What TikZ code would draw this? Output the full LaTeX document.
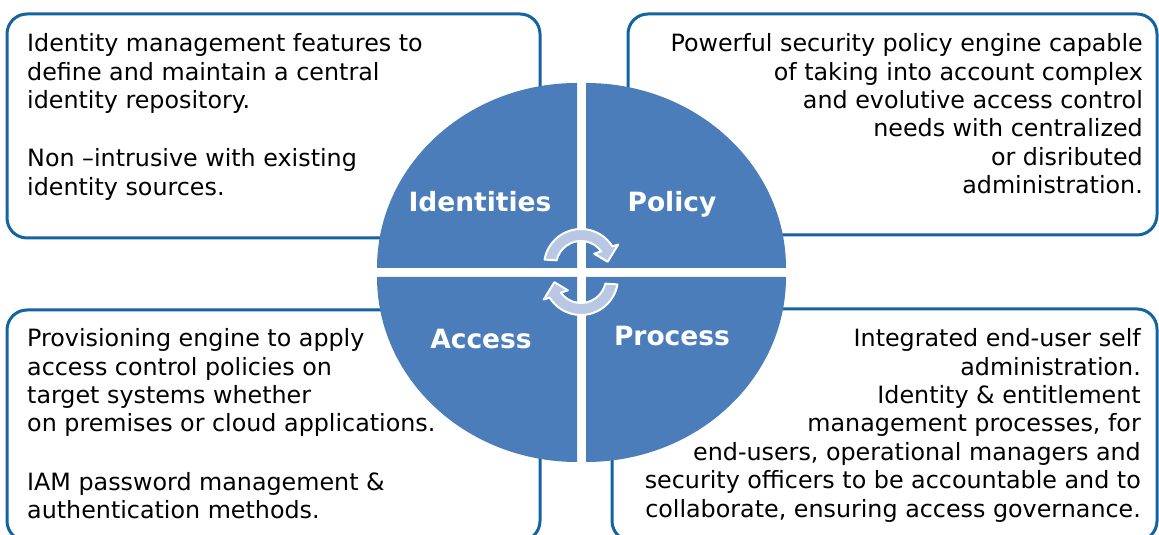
\documentclass[tikz,border=0pt]{standalone}
\usepackage{fontspec}
\setmainfont{DejaVu Sans}
\definecolor{frameblue}{RGB}{20,100,160}
\definecolor{wheelblue}{RGB}{74,125,186}
\definecolor{cyclefill}{RGB}{184,199,226}
\tikzset{
  infobox/.style={draw=frameblue, line width=3bp, fill=white, rounded corners=20bp},
  quadrant/.style={fill=wheelblue},
  bodytext/.style={inner sep=0pt, text=black, font=\fontsize{23.8bp}{28.4bp}\selectfont},
  wheellabel/.style={inner sep=0pt, text=white, font=\bfseries\fontsize{26.5bp}{30bp}\selectfont},
  cyclearrow/.style={fill=cyclefill, draw=white, line width=2bp, line join=round}
}
\begin{document}
\begin{tikzpicture}[x=1bp,y=1bp]
\useasboundingbox (0,0) rectangle (1159,535);
\clip (0,0) rectangle (1159,535);

% description boxes
\draw[infobox] (7,297) rectangle (540,521);
\draw[infobox] (628,300) rectangle (1157,521);
\draw[infobox] (7,-6) rectangle (540,225);
\draw[infobox] (612,-6) rectangle (1157,226);

% the four quarters of the wheel
\coordinate (c) at (581.5,262.5);
\fill[quadrant] ([shift={(-4.5,4.5)}]c) -- ++(-200,0) arc[start angle=180, end angle=90, x radius=200bp, y radius=185bp] -- cycle;
\fill[quadrant] ([shift={(4.5,4.5)}]c) -- ++(200,0) arc[start angle=0, end angle=90, x radius=200bp, y radius=185bp] -- cycle;
\fill[quadrant] ([shift={(-4.5,-4.5)}]c) -- ++(-200,0) arc[start angle=180, end angle=270, x radius=200bp, y radius=185bp] -- cycle;
\fill[quadrant] ([shift={(4.5,-4.5)}]c) -- ++(200,0) arc[start angle=0, end angle=-90, x radius=200bp, y radius=185bp] -- cycle;

% cycle arrows in the middle
\coordinate (ct) at (581,269);
\coordinate (cb) at (581,257);
\begin{scope}[shift={(ct)}]
  \path[cyclearrow] (170:37) arc[start angle=170, end angle=32, radius=37bp]
    -- (30:43) -- (9:27) -- (43:18) -- (36:25)
    arc[start angle=36, end angle=167, radius=25bp] -- cycle;
\end{scope}
\begin{scope}[shift={(cb)}, rotate=180]
  \path[cyclearrow] (170:37) arc[start angle=170, end angle=32, radius=37bp]
    -- (30:43) -- (9:27) -- (43:18) -- (36:25)
    arc[start angle=36, end angle=167, radius=25bp] -- cycle;
\end{scope}

% quarter labels
\node[wheellabel] (identities) at (480,333) {Identities};
\node[wheellabel] (policy) at (672,331) {Policy};
\node[wheellabel] (access) at (481,196) {Access};
\node[wheellabel] (process) at (672,199) {Process};

% descriptions
\node[bodytext, align=left, anchor=north west] (idtext) at (27,501.6)
  {Identity management features to\\
   define and maintain a central\\
   identity repository.\\[30bp]
   Non –intrusive with existing\\
   identity sources.};
\node[bodytext, align=right, anchor=north east] (policytext) at (1143,501.6)
  {Powerful security policy engine capable\\
   of taking into account complex\\
   and evolutive access control\\
   needs with centralized\\
   or disributed\\
   administration.};
\node[bodytext, align=left, anchor=north west] (accesstext) at (27,206.6)
  {Provisioning engine to apply\\
   access control policies on\\
   target systems whether\\
   on premises or cloud applications.\\[30bp]
   IAM password management \&\\
   authentication methods.};
\node[bodytext, align=right, anchor=north east] (processtext) at (1141,206.6)
  {Integrated end-user self\\
   administration.\\
   Identity \& entitlement\\
   management processes, for\\
   end-users, operational managers and\\
   security officers to be accountable and to\\
   collaborate, ensuring access governance.};
\end{tikzpicture}
\end{document}
